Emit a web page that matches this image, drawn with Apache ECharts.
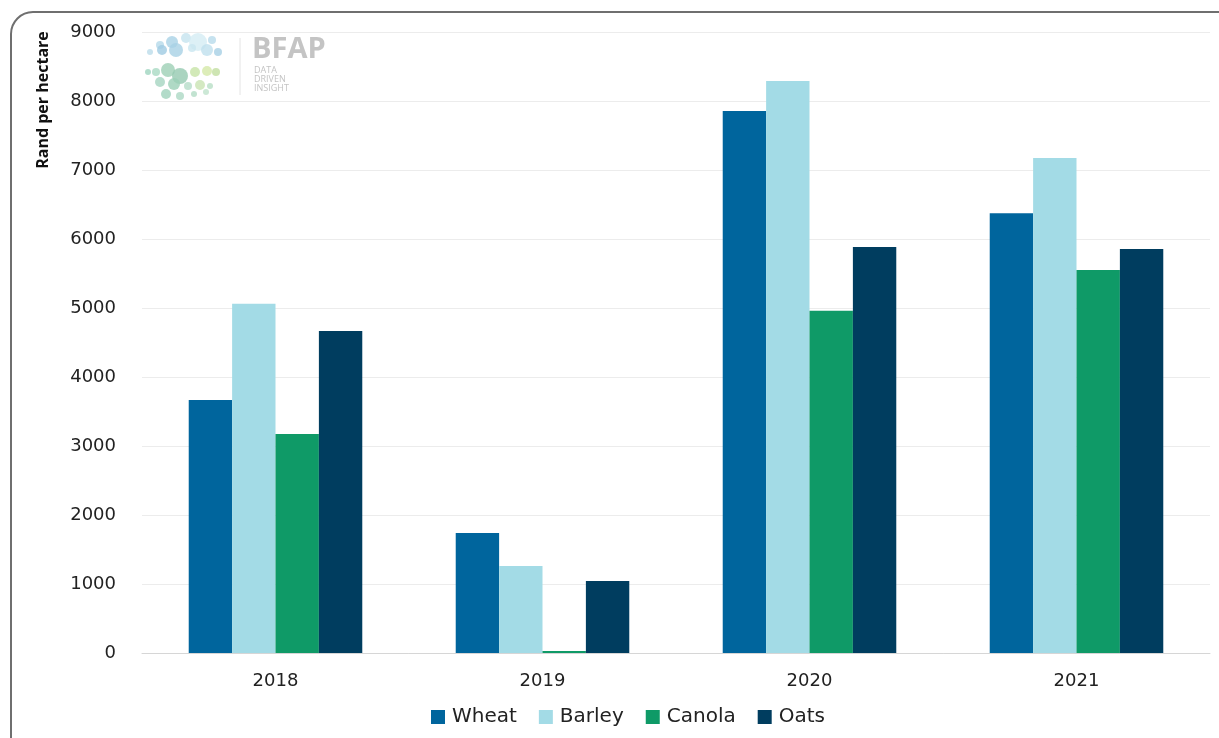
<!DOCTYPE html>
<html><head><meta charset="utf-8">
<script src="https://cdn.jsdelivr.net/npm/echarts@6/dist/echarts.min.js"></script>
<style>html,body{margin:0;padding:0;background:#fff}#c{width:1219px;height:738px}</style>
</head><body><div id="c"></div>
<script>
const categories = ['2018','2019','2020','2021'];
const wheat  = [3665, 1740, 7855, 6375];
const barley = [5060, 1260, 8290, 7175];
const canola = [3175,   30, 4960, 5550];
const oats   = [4665, 1045, 5885, 5855];
const yTicks = {min:0, max:9000, interval:1000};

const chart = echarts.init(document.getElementById('c'));
const font = '"DejaVu Sans", "Open Sans", sans-serif';
function s(name, data, color){
  return {name, type:'bar', data, itemStyle:{color}, barGap:'0%', barCategoryGap:'35%'};
}
// logo bubbles (decoration)
const bubbles = [
 [160,45,4,'#b5d9ea'],[172,42,6,'#a9d2e6'],[186,38,5,'#c6e3ef'],[198,42,9,'#d4ecf4'],[212,40,4,'#b8dbeb'],
 [150,52,3,'#bcdcea'],[162,50,5,'#9fcbe2'],[176,50,7,'#a7d1e5'],[192,48,4,'#c9e6f0'],[207,50,6,'#bfe0ee'],[218,52,4,'#a6cfe5'],
 [148,72,3,'#9fd4bf'],[156,72,4,'#a9d9c3'],[168,70,7,'#9ecfb5'],[180,76,8,'#95c9b0'],[195,72,5,'#c7e3a6'],[207,71,5,'#d5e9a8'],[216,72,4,'#c2dfa0'],
 [160,82,5,'#a5d5c0'],[174,84,6,'#9bcfb7'],[188,86,4,'#b5dcc8'],[200,85,5,'#c9e4b3'],[210,86,3,'#b8dec5'],
 [166,94,5,'#9fd2bc'],[180,96,4,'#acd8c4'],[194,94,3,'#b3dcc6'],[206,92,3,'#bfe2cc']
];
const graphic = [
  {type:'rect', shape:{x:11, y:12, width:1240, height:760, r:22}, style:{fill:'none', stroke:'#6f6f6f', lineWidth:2}, silent:true},
  {type:'text', x:43, y:100, rotation:Math.PI/2, style:{text:'Rand per hectare', font:'bold 16px "Liberation Sans Narrow", "Open Sans", sans-serif', fill:'#111', textAlign:'center', textVerticalAlign:'middle'}},
  {type:'line', shape:{x1:240, y1:38, x2:240, y2:95}, style:{stroke:'#e4e4e4', lineWidth:1}},
  {type:'text', x:252, y:35, style:{text:'BFAP', font:'bold 29px "Open Sans", sans-serif', fill:'#c4c4c4'}},
  {type:'text', x:254, y:66, style:{text:'DATA\nDRIVEN\nINSIGHT', font:'9px "Open Sans", sans-serif', fill:'#c4c4c4', lineHeight:9}}
];
bubbles.forEach(b=>graphic.push({type:'circle', shape:{cx:b[0], cy:b[1], r:b[2]}, style:{fill:b[3], opacity:0.8}, silent:true}));

chart.setOption({
  backgroundColor:'#fff',
  animation:false,
  textStyle:{fontFamily:font},
  grid:{left:142, right:9, top:32, bottom:85, containLabel:false},
  legend:{bottom:6, left:426, itemWidth:14, itemHeight:14, itemGap:22, icon:'rect',
    textStyle:{fontSize:20, color:'#222', fontFamily:font, padding:[0,0,0,2]}},
  xAxis:{type:'category', data:categories, axisTick:{show:false},
    axisLine:{lineStyle:{color:'#d6d6d6'}},
    axisLabel:{fontSize:18, color:'#222', margin:19}},
  yAxis:{type:'value', min:yTicks.min, max:yTicks.max, interval:yTicks.interval,
    axisLine:{show:false}, axisTick:{show:false},
    splitLine:{lineStyle:{color:'#ececec'}},
    axisLabel:{fontSize:18, color:'#222', margin:26, formatter:v=>String(v)}},
  series:[ s('Wheat',wheat,'#00659d'), s('Barley',barley,'#a3dbe6'), s('Canola',canola,'#0f9a67'), s('Oats',oats,'#003d5f') ],
  graphic
});
</script></body></html>
